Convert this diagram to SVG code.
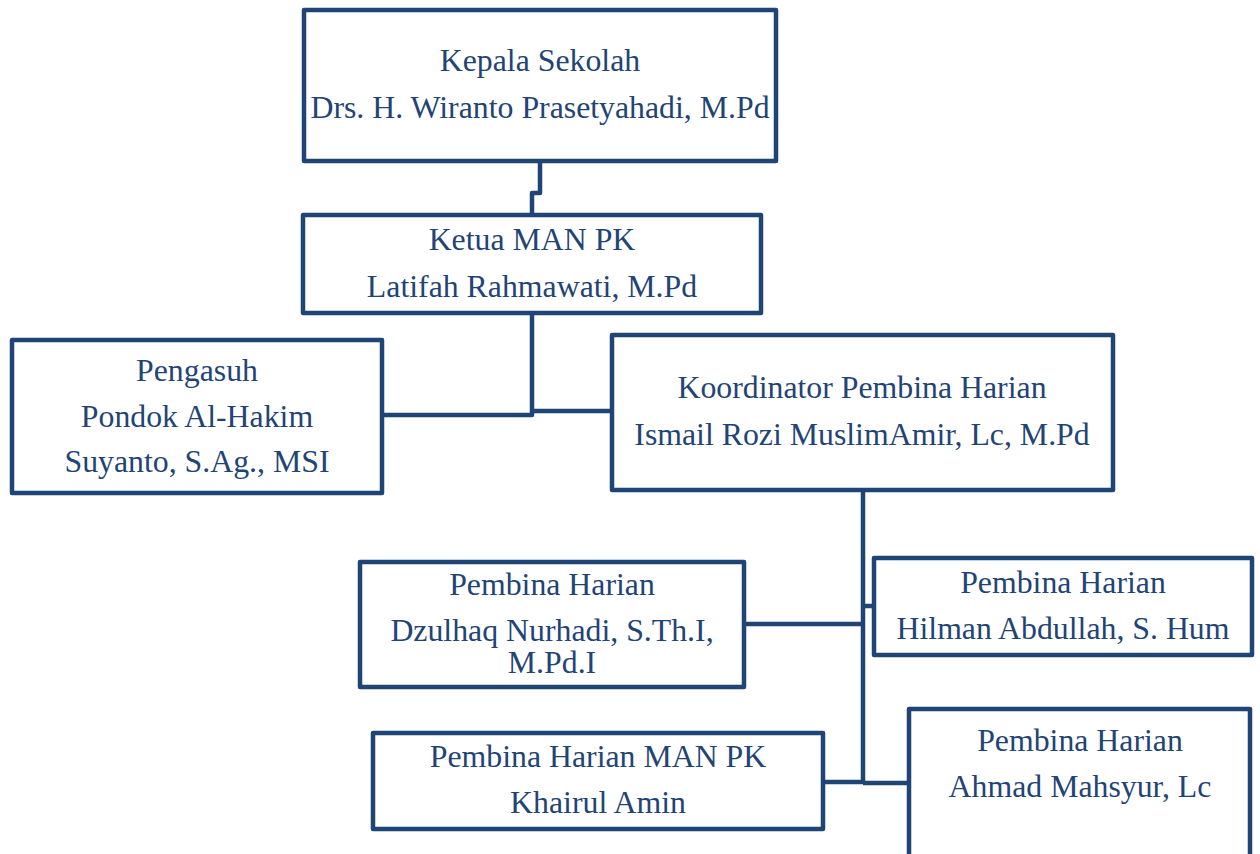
<svg xmlns="http://www.w3.org/2000/svg" width="1260" height="854" viewBox="0 0 1260 854">
<style>
.box{fill:#fff;stroke:#1F4476;stroke-width:4.5;stroke-linejoin:round}
.ln{fill:none;stroke:#1F4476;stroke-width:4.5;stroke-linejoin:round}
text{font-family:"Liberation Serif","Times New Roman",serif;font-size:31.8px;fill:#1F4476;text-anchor:middle}
</style>
<rect width="1260" height="854" fill="#fff"/>
<g id="connectors">
<path class="ln" d="M540 161 V193 H532 V215"/>
<path class="ln" d="M532 313 V415 H382"/>
<path class="ln" d="M532 411 H612"/>
<path class="ln" d="M863 490 V783"/>
<path class="ln" d="M863 606 H874"/>
<path class="ln" d="M743 624 H863"/>
<path class="ln" d="M823 782 H863"/>
<path class="ln" d="M863 783 H909"/>
</g>
<g id="kepala">
<rect class="box" x="304" y="10" width="472" height="151"/>
<text x="540" y="71">Kepala Sekolah</text>
<text x="540" y="118">Drs. H. Wiranto Prasetyahadi, M.Pd</text>
</g>
<g id="ketua">
<rect class="box" x="303" y="215" width="458" height="98"/>
<text x="532" y="250">Ketua MAN PK</text>
<text x="532" y="297">Latifah Rahmawati, M.Pd</text>
</g>
<g id="pengasuh">
<rect class="box" x="12" y="340" width="370" height="153"/>
<text x="197" y="381">Pengasuh</text>
<text x="197" y="427">Pondok Al-Hakim</text>
<text x="197" y="472">Suyanto, S.Ag., MSI</text>
</g>
<g id="koordinator">
<rect class="box" x="612" y="335" width="501" height="155"/>
<text x="862" y="398">Koordinator Pembina Harian</text>
<text x="862" y="445">Ismail Rozi MuslimAmir, Lc, M.Pd</text>
</g>
<g id="dzulhaq">
<rect class="box" x="360" y="562" width="384" height="125"/>
<text x="552" y="595">Pembina Harian</text>
<text x="552" y="641">Dzulhaq Nurhadi, S.Th.I,</text>
<text x="552" y="673">M.Pd.I</text>
</g>
<g id="hilman">
<rect class="box" x="874" y="558" width="378" height="97"/>
<text x="1063" y="593">Pembina Harian</text>
<text x="1063" y="639">Hilman Abdullah, S. Hum</text>
</g>
<g id="khairul">
<rect class="box" x="373" y="733" width="450" height="96"/>
<text x="598" y="767">Pembina Harian MAN PK</text>
<text x="598" y="813">Khairul Amin</text>
</g>
<g id="ahmad">
<rect class="box" x="909" y="709" width="341" height="170"/>
<text x="1080" y="751">Pembina Harian</text>
<text x="1080" y="797">Ahmad Mahsyur, Lc</text>
</g>
</svg>
